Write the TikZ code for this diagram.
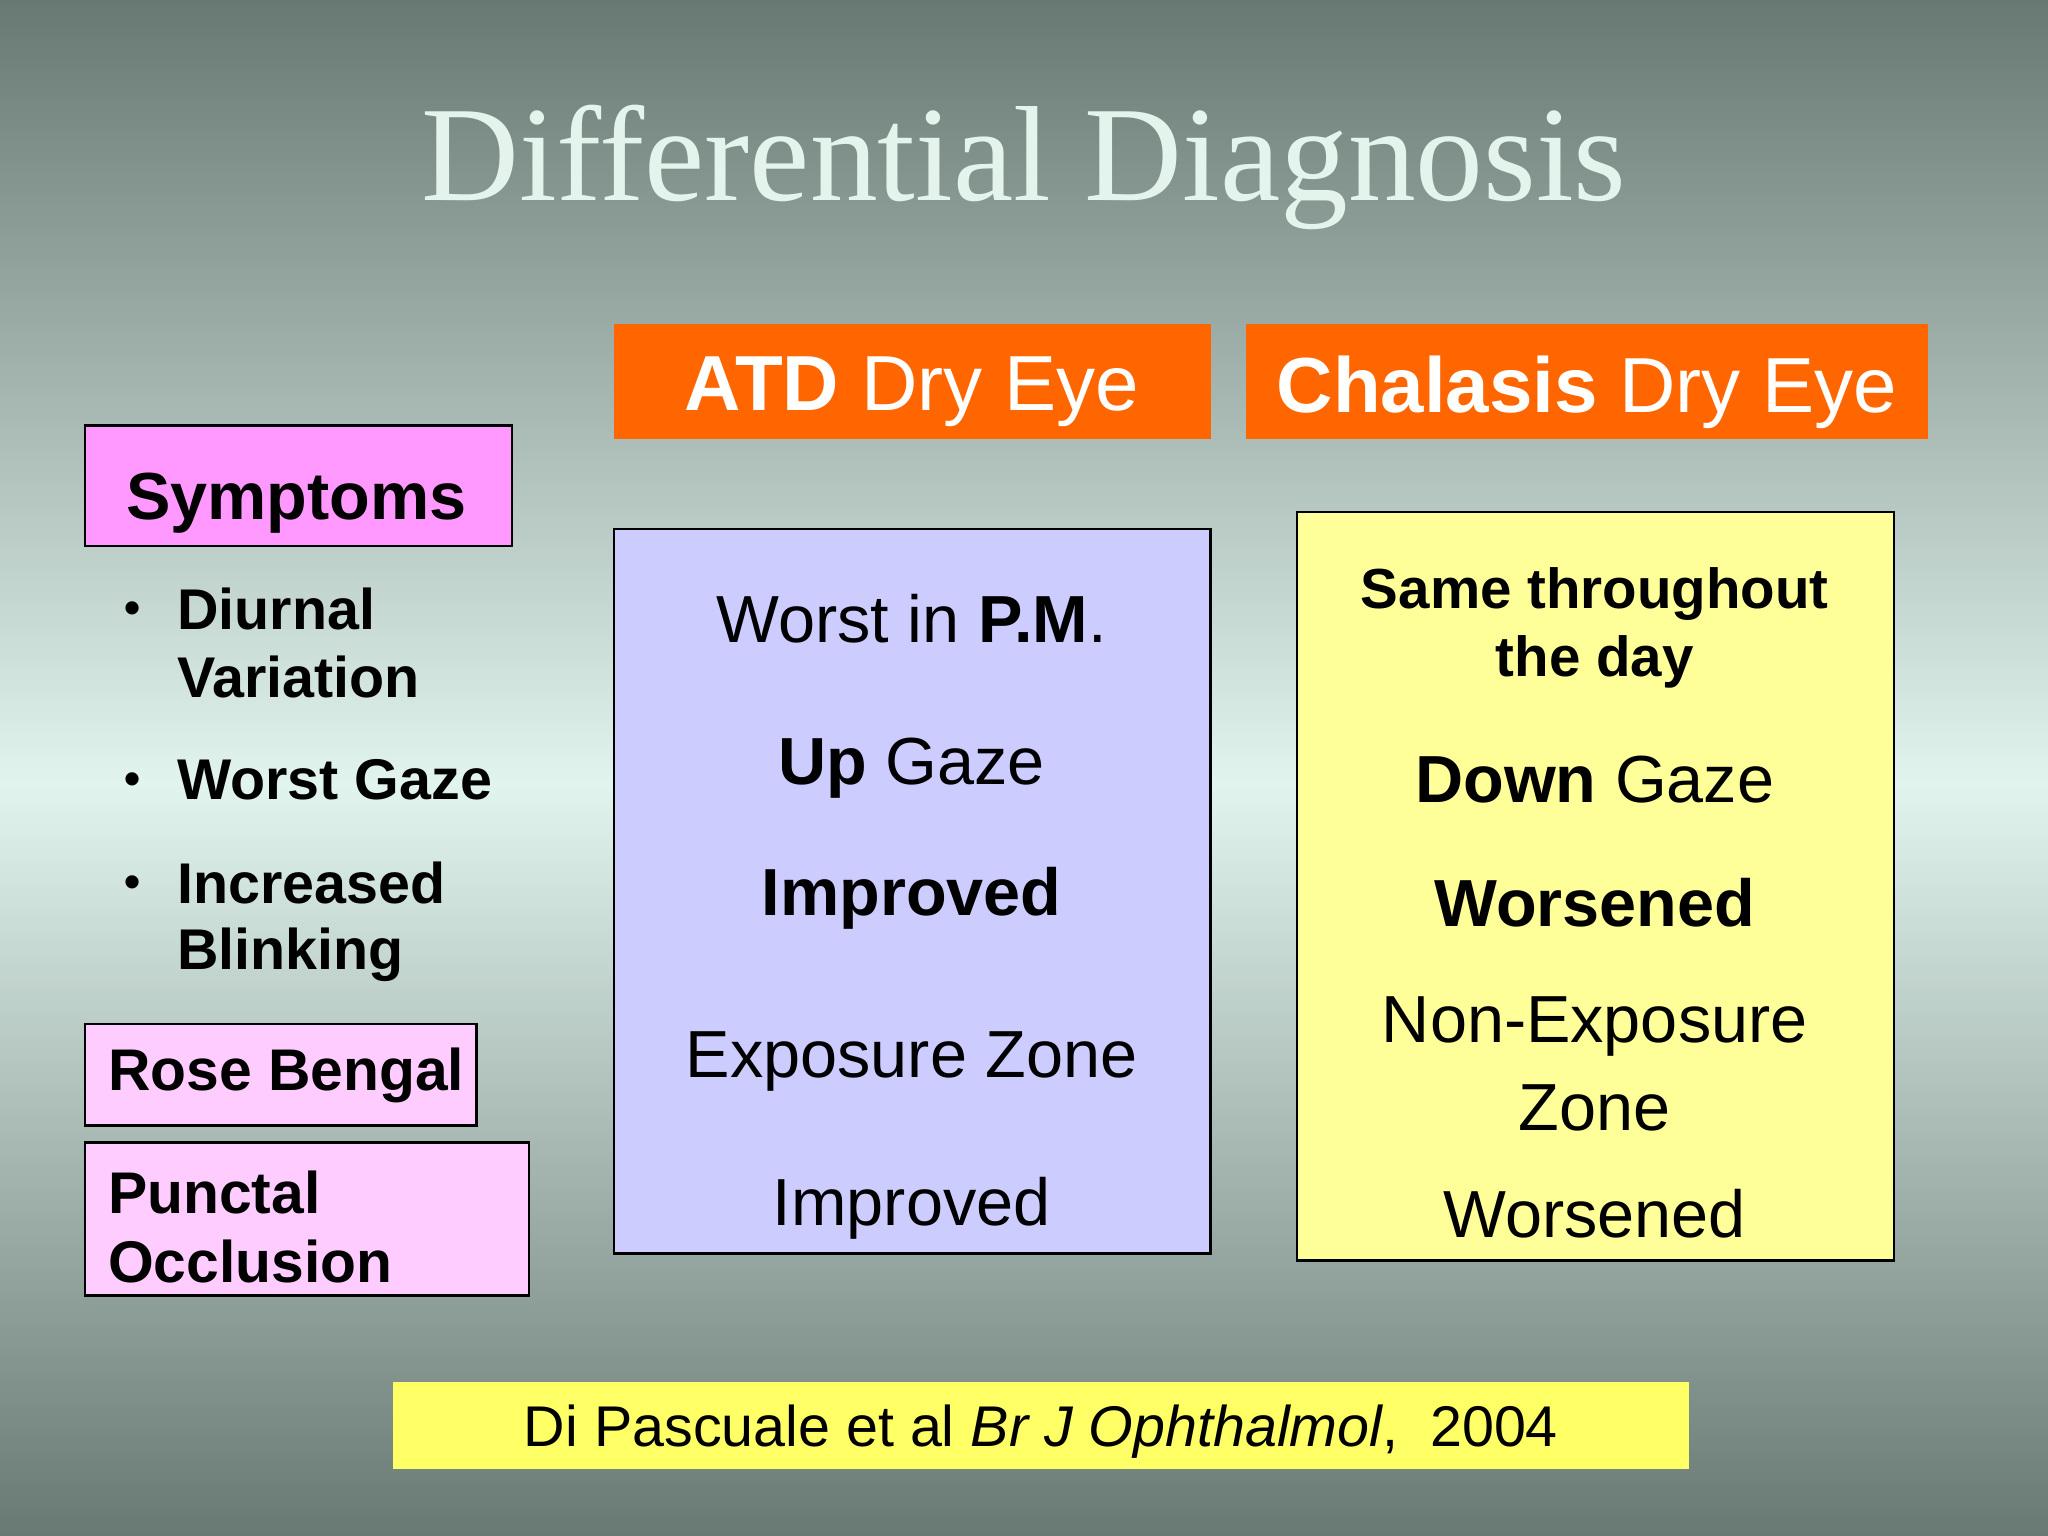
\documentclass[tikz,border=0pt]{standalone}
\usepackage{fontspec}
\setmainfont{Liberation Sans}
\newfontfamily\titlefont{Liberation Serif}
\definecolor{bgtop}{HTML}{687873}
\definecolor{bgmid}{HTML}{E2F4EE}
\definecolor{orng}{HTML}{FF6600}
\definecolor{pinkA}{HTML}{FF99FF}
\definecolor{pinkB}{HTML}{FFCCFF}
\definecolor{lav}{HTML}{CCCCFF}
\definecolor{ylw}{HTML}{FFFF99}
\definecolor{ylw2}{HTML}{FFFF66}
\definecolor{ttl}{HTML}{E4F4EC}
\begin{document}
\begin{tikzpicture}[x=0.01cm,y=-0.01cm,
  box/.style={draw=black,line width=0.6pt},
  hdr/.style={fill=orng},
  t/.style={inner sep=0,anchor=center,align=center},
  tl/.style={inner sep=0,anchor=west,align=left}]
\useasboundingbox (0,0) rectangle (1568,1176);
\shade[top color=bgtop,bottom color=bgmid] (0,0) rectangle (1568,600);
\shade[top color=bgmid,bottom color=bgtop] (0,600) rectangle (1568,1176);
\node[t,text=ttl] (title) at (784,128) {\titlefont\fontsize{29.5}{36}\selectfont Differential Diagnosis};
% headers
\fill[hdr] (470,248) rectangle (927,336);
\node[t,text=white] (atdh) at (698,300) {\fontsize{17}{21}\selectfont\textbf{ATD} Dry Eye};
\fill[hdr] (954,248) rectangle (1476,336);
\node[t,text=white] (chh) at (1215,300) {\fontsize{17}{21}\selectfont\textbf{Chalasis} Dry Eye};
% symptoms
\draw[box,fill=pinkA] (65,326) rectangle (392,418);
\node[t] (sym) at (227,385) {\fontsize{14.5}{18}\selectfont\bfseries Symptoms};
\begin{scope}[every node/.style={tl,font=\fontsize{12.5}{18}\selectfont\bfseries}]
\node (b1) at (95,469) {\fontsize{10}{12}\selectfont•};
\node (d1) at (135,466) {Diurnal};
\node (d2) at (135,518) {Variation};
\node (b2) at (95,600) {\fontsize{10}{12}\selectfont•};
\node (w1) at (135,597) {Worst Gaze};
\node (b3) at (95,679) {\fontsize{10}{12}\selectfont•};
\node (i1) at (135,676) {Increased};
\node (i2) at (135,731) {Blinking};
\end{scope}
\draw[box,fill=pinkB] (65,784) rectangle (365,862);
\node[tl] (rb) at (82,823) {\fontsize{12.8}{16}\selectfont\bfseries Rose Bengal};
\draw[box,fill=pinkB] (65,875) rectangle (405,992);
\node[tl] (po1) at (82,913) {\fontsize{12.8}{16}\selectfont\bfseries Punctal};
\node[tl] (po2) at (82,966) {\fontsize{12.8}{16}\selectfont\bfseries Occlusion};
% ATD body
\draw[box,fill=lav] (470,405) rectangle (927,960);
\begin{scope}[every node/.style={t,font=\fontsize{14.5}{18}\selectfont}]
\node (a1) at (698,474) {Worst in \textbf{P.M}.};
\node (a2) at (698,588) {\textbf{Up} Gaze};
\node (a3) at (698,688) {\textbf{Improved}};
\node (a4) at (698,813) {Exposure Zone};
\node (a5) at (698,925) {Improved};
\end{scope}
% Chalasis body
\draw[box,fill=ylw] (993,392) rectangle (1450,965);
\node[t,font=\fontsize{12.3}{14.8}\selectfont\bfseries] (c0) at (1221,481) {Same throughout\\the day};
\begin{scope}[every node/.style={t,font=\fontsize{14.5}{18}\selectfont}]
\node (c1) at (1221,597) {\textbf{Down} Gaze};
\node (c2) at (1221,691) {\textbf{Worsened}};
\node (c3) at (1221,786) {Non-Exposure};
\node (c4) at (1221,848) {Zone};
\node (c5) at (1221,929) {Worsened};
\end{scope}
% citation
\fill[ylw2] (301,1058) rectangle (1293,1125);
\node[t] (cit) at (797,1096) {\fontsize{12.5}{16}\selectfont Di Pascuale et al \textit{Br J Ophthalmol},\ \ 2004};
\end{tikzpicture}
\end{document}
